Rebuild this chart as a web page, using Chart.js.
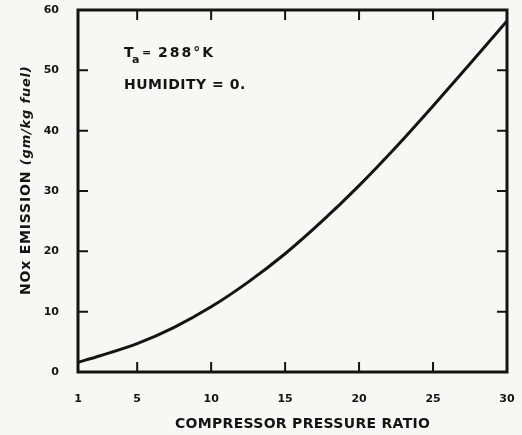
<!DOCTYPE html>
<html>
<head>
<meta charset="utf-8">
<script src="https://cdn.jsdelivr.net/npm/chart.js@4/dist/chart.umd.min.js"></script>
<style>
  html, body { margin: 0; padding: 0; background: #f7f7f5; }
  #wrap { width: 522px; height: 435px; }
</style>
</head>
<body>
<div id="wrap"><canvas id="c" width="522" height="435"></canvas></div>
<script>
// Compressor pressure ratio vs. NOx emission index
const pressureRatio = [1, 2.5, 5, 7.5, 10, 12.5, 15, 17.5, 20, 22.5, 25, 27.5, 30];
const noxEmission   = [1.6, 2.7, 4.7, 7.4, 10.8, 14.9, 19.6, 25.0, 30.9, 37.3, 44.1, 51.1, 58.2];
const xTickValues = [1, 5, 10, 15, 20, 25, 30];
const yTickValues = [0, 10, 20, 30, 40, 50, 60];

const INK = '#141414';
const BOLD = '"DejaVu Sans", sans-serif';

// Frame with inward tick marks on all four sides
const framePlugin = {
  id: 'frame',
  beforeDraw(chart) {
    const ctx = chart.ctx;
    ctx.save();
    ctx.fillStyle = '#f7f7f5';
    ctx.fillRect(0, 0, chart.width, chart.height);
    ctx.restore();
  },
  afterDatasetsDraw(chart) {
    const {ctx, chartArea: a, scales: {x, y}} = chart;
    ctx.save();
    ctx.strokeStyle = INK;
    ctx.lineWidth = 2;
    ctx.lineCap = 'butt';
    const len = 10;
    x.ticks.forEach(t => {
      if (t.value === x.min || t.value === x.max) return;
      const px = x.getPixelForValue(t.value);
      ctx.beginPath();
      ctx.moveTo(px, a.bottom); ctx.lineTo(px, a.bottom - len);
      ctx.moveTo(px, a.top); ctx.lineTo(px, a.top + len);
      ctx.stroke();
    });
    y.ticks.forEach(t => {
      if (t.value === y.min || t.value === y.max) return;
      const py = y.getPixelForValue(t.value);
      ctx.beginPath();
      ctx.moveTo(a.left, py); ctx.lineTo(a.left + len, py);
      ctx.moveTo(a.right, py); ctx.lineTo(a.right - len, py);
      ctx.stroke();
    });
    ctx.lineWidth = 3;
    ctx.lineJoin = 'miter';
    ctx.strokeRect(a.left, a.top, a.right - a.left, a.bottom - a.top);
    ctx.restore();
  },
  afterDraw(chart) {
    const {ctx} = chart;
    ctx.save();
    ctx.fillStyle = INK;
    ctx.textBaseline = 'alphabetic';

    // axis titles
    ctx.font = 'bold 14px ' + BOLD;
    ctx.letterSpacing = '0.3px';
    ctx.textAlign = 'left';
    ctx.fillText('COMPRESSOR PRESSURE RATIO', 175, 428);

    ctx.save();
    ctx.translate(30, 295);
    ctx.rotate(-Math.PI / 2);
    ctx.textAlign = 'left';
    ctx.font = 'bold 14px ' + BOLD;
    ctx.letterSpacing = '0.8px';
    const part1 = 'NOx EMISSION ';
    ctx.fillText(part1, 0, 0);
    const w1 = ctx.measureText(part1).width;
    ctx.font = 'italic bold 13px ' + BOLD;
    ctx.fillText('(gm/kg fuel)', w1, 0);
    ctx.restore();

    // condition notes
    ctx.font = 'bold 14px ' + BOLD;
    ctx.letterSpacing = '0px';
    ctx.fillText('T', 124, 57);
    ctx.font = 'bold 11px ' + BOLD;
    ctx.fillText('a', 132, 63);
    ctx.fillText('=', 142, 56);
    ctx.font = 'bold 14px ' + BOLD;
    ctx.letterSpacing = '2px';
    ctx.fillText('288°K', 158, 57);
    ctx.letterSpacing = '0.5px';
    ctx.fillText('HUMIDITY = 0.', 124, 89);
    ctx.restore();
  }
};

// keep the plot frame fixed: tick labels may overhang the layout padding
const noOverhang = s => { s.paddingTop = 0; s.paddingBottom = 0; s.paddingLeft = 0; s.paddingRight = 0; };

new Chart(document.getElementById('c'), {
  type: 'line',
  data: {
    datasets: [{
      data: pressureRatio.map((p, i) => ({x: p, y: noxEmission[i]})),
      borderColor: INK,
      borderWidth: 3,
      pointRadius: 0,
      cubicInterpolationMode: 'monotone',
      fill: false
    }]
  },
  options: {
    responsive: false,
    devicePixelRatio: 1,
    animation: false,
    layout: { padding: { top: 10, right: 15, left: 0, bottom: 0 } },
    plugins: { legend: { display: false }, tooltip: { enabled: false } },
    scales: {
      x: {
        type: 'linear',
        min: 1, max: 30,
        afterBuildTicks: s => { s.ticks = xTickValues.map(v => ({value: v})); },
        afterFit: s => { s.height = 63; noOverhang(s); },
        grid: { display: false },
        border: { display: false },
        ticks: {
          color: INK, padding: 13, maxRotation: 0, autoSkip: false,
          font: { family: BOLD, weight: 'bold', size: 11 }
        }
      },
      y: {
        type: 'linear',
        min: 0, max: 60,
        afterBuildTicks: s => { s.ticks = yTickValues.map(v => ({value: v})); },
        afterFit: s => { s.width = 78; noOverhang(s); },
        grid: { display: false },
        border: { display: false },
        ticks: {
          color: INK, padding: 11, autoSkip: false,
          font: { family: BOLD, weight: 'bold', size: 11 }
        }
      }
    }
  },
  plugins: [framePlugin]
});
</script>
</body>
</html>
